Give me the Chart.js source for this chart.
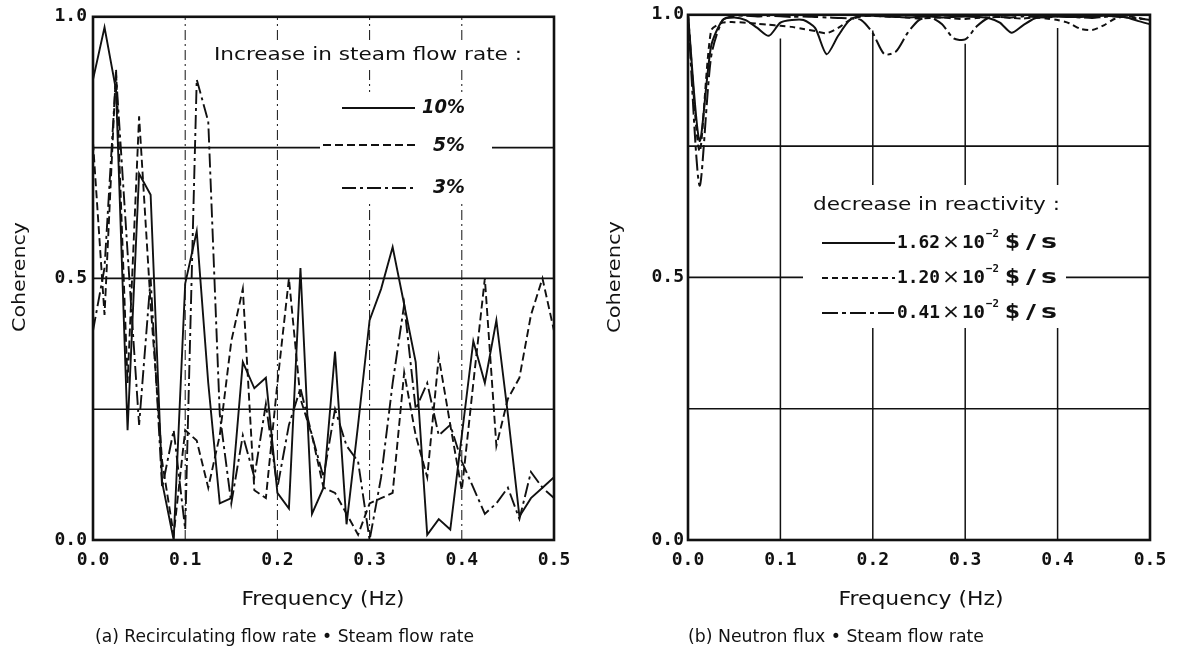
<!DOCTYPE html>
<html><head><meta charset="utf-8">
<script src="https://cdn.jsdelivr.net/npm/chart.js@4.4.1/dist/chart.umd.min.js"></script>
<style>
html,body{margin:0;padding:0;background:#fff;width:1180px;height:655px;overflow:hidden;}
.wrap{position:absolute;top:0;width:590px;height:655px;}
#wa{left:0}#wb{left:590px}
</style></head><body>
<div class="wrap" id="wa"><canvas id="ca" width="590" height="655"></canvas></div>
<div class="wrap" id="wb"><canvas id="cb" width="590" height="655"></canvas></div>
<script>
// ---- data ----
const freq = [0, 0.0125, 0.025, 0.0375, 0.05, 0.0625, 0.075, 0.0875, 0.1, 0.1125, 0.125, 0.1375, 0.15, 0.1625, 0.175, 0.1875, 0.2, 0.2125, 0.225, 0.2375, 0.25, 0.2625, 0.275, 0.2875, 0.3, 0.3125, 0.325, 0.3375, 0.35, 0.3625, 0.375, 0.3875, 0.4, 0.4125, 0.425, 0.4375, 0.45, 0.4625, 0.475, 0.4875, 0.5];
// (a) Recirculating flow rate - steam flow rate
const steam10 = [0.88,0.98,0.86,0.21,0.70,0.66,0.11,0.00,0.49,0.59,0.30,0.07,0.08,0.34,0.29,0.31,0.09,0.06,0.52,0.05,0.10,0.36,0.03,0.22,0.42,0.48,0.56,0.45,0.34,0.01,0.04,0.02,0.20,0.38,0.30,0.42,0.24,0.045,0.08,0.10,0.12];
const steam5  = [0.76,0.43,0.90,0.30,0.81,0.45,0.15,0.01,0.21,0.19,0.10,0.20,0.38,0.48,0.095,0.08,0.30,0.50,0.27,0.20,0.10,0.09,0.05,0.01,0.07,0.08,0.09,0.32,0.20,0.12,0.35,0.22,0.095,0.30,0.50,0.18,0.27,0.31,0.43,0.50,0.40];
const steam3  = [0.40,0.52,0.89,0.55,0.22,0.50,0.10,0.21,0.02,0.88,0.80,0.24,0.07,0.20,0.12,0.26,0.10,0.22,0.29,0.20,0.12,0.25,0.18,0.15,0.00,0.12,0.30,0.45,0.25,0.30,0.20,0.22,0.15,0.10,0.05,0.07,0.10,0.04,0.13,0.10,0.08];
// (b) Neutron flux - steam flow rate
const react162 = [1.00,0.76,0.94,0.99,0.995,0.99,0.975,0.96,0.985,0.99,0.99,0.975,0.925,0.96,0.99,0.998,0.998,0.997,0.996,0.995,0.996,0.997,0.995,0.996,0.997,0.996,0.994,0.985,0.966,0.98,0.993,0.996,0.997,0.996,0.996,0.997,0.998,0.997,0.995,0.988,0.982];
const react120 = [1.00,0.74,0.97,0.985,0.986,0.985,0.983,0.981,0.979,0.977,0.973,0.969,0.965,0.975,0.99,0.997,0.998,0.997,0.996,0.995,0.993,0.994,0.995,0.993,0.992,0.994,0.995,0.996,0.994,0.993,0.995,0.993,0.99,0.984,0.973,0.971,0.98,0.993,0.997,0.994,0.99];
const react041 = [1.00,0.675,0.92,0.99,0.998,0.998,0.997,0.998,0.997,0.996,0.997,0.996,0.995,0.994,0.993,0.99,0.965,0.925,0.93,0.965,0.99,0.995,0.982,0.955,0.953,0.978,0.994,0.996,0.995,0.997,0.996,0.995,0.997,0.996,0.995,0.994,0.996,0.997,0.995,0.993,0.99];
const xTicks = [0, 0.1, 0.2, 0.3, 0.4, 0.5];
const yTicks = [0, 0.5, 1.0];
const gridY = [0.25, 0.5, 0.75];
const gridX = [0.1, 0.2, 0.3, 0.4];
const gridTopB = [0.955, 0.97, 0.945, 0.975];

// ---- helpers ----
const INK = '#111';
function put(ctx, s, x, y, o) {
  ctx.save();
  ctx.font = o.font; ctx.fillStyle = INK; ctx.textBaseline = 'middle';
  ctx.translate(x, y);
  if (o.rot) ctx.rotate(o.rot);
  const m = ctx.measureText(s).width;
  ctx.scale(o.w ? o.w / m : 1, 1);
  ctx.textAlign = o.align || 'left';
  ctx.fillText(s, 0, 0);
  ctx.restore();
}
function seg(ctx, x1, y1, x2, y2, dash, lw) {
  ctx.save(); ctx.strokeStyle = INK; ctx.lineWidth = lw; ctx.setLineDash(dash || []);
  ctx.beginPath(); ctx.moveTo(x1, y1); ctx.lineTo(x2, y2); ctx.stroke(); ctx.restore();
}
const pts = arr => freq.map((f, i) => ({x: f, y: arr[i]}));

function decor(d) {
  return {
    id: 'decor',
    beforeDatasetsDraw(chart) {
      const {ctx, chartArea: a, scales: {x, y}} = chart;
      gridY.forEach(v => { const py = y.getPixelForValue(v); seg(ctx, a.left, py, a.right, py, [], 1.6); });
      gridX.forEach((f, i) => {
        const px = x.getPixelForValue(f);
        const top = d.vTop ? y.getPixelForValue(d.vTop[i]) : a.top;
        seg(ctx, px, a.bottom, px, top, d.vDash, d.vWidth);
      });
      ctx.save(); ctx.fillStyle = '#fff';
      d.boxes.forEach(b => ctx.fillRect(b[0], b[1], b[2], b[3]));
      ctx.restore();
      d.samples.forEach(s => seg(ctx, s[0], s[2], s[1], s[2], s[3], 1.8));
      d.texts.forEach(t => put(ctx, t.s, t.x, t.y, t));
      if (d.rich) d.rich(ctx);
    },
    afterDatasetsDraw(chart) {
      const {ctx, chartArea: a} = chart;
      ctx.save(); ctx.strokeStyle = INK; ctx.lineWidth = 2.6;
      ctx.strokeRect(a.left, a.top, a.right - a.left, a.bottom - a.top);
      ctx.restore();
    }
  };
}

function makeChart(id, sets, pad, yPad, d) {
  return new Chart(document.getElementById(id), {
    type: 'line',
    data: { datasets: sets.map(s => ({
      data: pts(s.v), borderColor: INK, borderWidth: s.w, borderDash: s.dash,
      pointRadius: 0, fill: false, tension: s.t || 0
    })) },
    options: {
      responsive: false, devicePixelRatio: 1, animation: false,
      layout: { padding: pad },
      plugins: { legend: {display: false}, tooltip: {enabled: false} },
      scales: {
        x: { type: 'linear', min: 0, max: 0.5,
             grid: {display: false, drawTicks: false}, border: {display: false},
             afterBuildTicks: s => { s.ticks = xTicks.map(v => ({value: v})); },
             ticks: { padding: 10, maxRotation: 0, autoSkip: false, color: INK,
                      font: {family: '"DejaVu Sans Mono"', weight: 'bold', size: 18},
                      callback: v => Number(v).toFixed(1) },
             afterFit: s => { s.height = 30; } },
        y: { type: 'linear', min: 0, max: 1,
             grid: {display: false, drawTicks: false}, border: {display: false},
             afterBuildTicks: s => { s.ticks = yTicks.map(v => ({value: v})); },
             ticks: { padding: yPad, color: INK,
                      font: {family: '"DejaVu Sans Mono"', weight: 'bold', size: 18},
                      callback: v => Number(v).toFixed(1) },
             afterFit: s => { s.width = 40; } }
      }
    },
    plugins: [decor(d)]
  });
}

// ---- chart (a) ----
makeChart('ca', [
  {v: steam10, w: 1.9, dash: []},
  {v: steam5,  w: 1.9, dash: [8, 4]},
  {v: steam3,  w: 1.9, dash: [14, 4, 3, 4]}
], {left: 53, right: 36, top: 15, bottom: 85}, 6, {
  vDash: [10, 4, 2, 4], vWidth: 1,
  boxes: [[208, 42, 320, 27], [320, 92, 172, 112]],
  samples: [[342, 415, 108, []], [323, 415, 145, [8, 4]], [342, 415, 188, [14, 4, 3, 4]]],
  texts: [
    {s: 'Coherency', x: 20, y: 277, rot: -Math.PI / 2, align: 'center', w: 110, font: '18px "DejaVu Sans"'},
    {s: 'Frequency (Hz)', x: 323, y: 600, align: 'center', w: 163, font: '19px "DejaVu Sans"'},
    {s: '(a) Recirculating flow rate • Steam flow rate', x: 95, y: 638, w: 379, font: '17px "DejaVu Sans"'},
    {s: 'Increase in steam flow rate :', x: 214, y: 55, w: 308, font: '18px "DejaVu Sans"'},
    {s: '10%', x: 422, y: 108, w: 43, font: 'bold italic 19px "DejaVu Sans"'},
    {s: '5%', x: 433, y: 146, w: 32, font: 'bold italic 19px "DejaVu Sans"'},
    {s: '3%', x: 433, y: 188, w: 32, font: 'bold italic 19px "DejaVu Sans"'}
  ]
});

// ---- chart (b) ----
const legendB = [['1.62', 243], ['1.20', 278], ['0.41', 313]];
makeChart('cb', [
  {v: react162, w: 2, dash: [], t: 0.25},
  {v: react120, w: 2, dash: [6, 4], t: 0.25},
  {v: react041, w: 2, dash: [16, 4, 4, 4], t: 0.25}
], {left: 58, right: 30, top: 14, bottom: 85}, 4, {
  vDash: [], vWidth: 1.5, vTop: gridTopB,
  boxes: [[213, 185, 263, 143]],
  samples: [[232, 305, 243, []], [232, 305, 278, [6, 4]], [232, 305, 313, [16, 4, 4, 4]]],
  texts: [
    {s: 'Coherency', x: 25, y: 277, rot: -Math.PI / 2, align: 'center', w: 112, font: '18px "DejaVu Sans"'},
    {s: 'Frequency (Hz)', x: 331, y: 600, align: 'center', w: 165, font: '19px "DejaVu Sans"'},
    {s: '(b) Neutron flux • Steam flow rate', x: 98, y: 638, w: 296, font: '17px "DejaVu Sans"'},
    {s: 'decrease in reactivity :', x: 223, y: 205, w: 247, font: '18px "DejaVu Sans"'}
  ],
  rich(ctx) {
    const mono = 'bold 18px "DejaVu Sans Mono"';
    legendB.forEach(([num, yy]) => {
      put(ctx, num, 307, yy, {font: mono, w: 43});
      put(ctx, '×', 352, yy, {font: '20px "DejaVu Sans"', w: 18});
      put(ctx, '10', 372, yy, {font: mono, w: 23});
      put(ctx, '−2', 396, yy - 9, {font: 'bold 11px "DejaVu Sans Mono"', w: 13});
      put(ctx, '$', 415, yy, {font: 'bold 19px "DejaVu Sans"', w: 15});
      put(ctx, '/', 436, yy, {font: 'bold 19px "DejaVu Sans"', w: 10});
      put(ctx, 's', 451, yy, {font: 'bold 19px "DejaVu Sans"', w: 16});
    });
  }
});
</script>
</body></html>
